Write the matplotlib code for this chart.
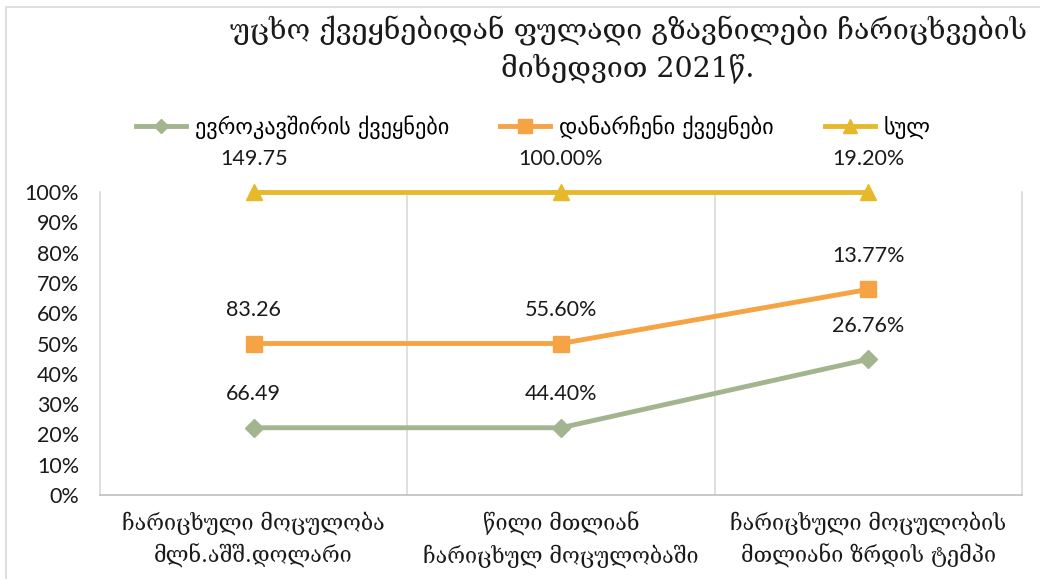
import matplotlib
matplotlib.use("Agg")
import matplotlib.pyplot as plt
import numpy as np
from matplotlib.lines import Line2D
from matplotlib.patches import Rectangle

categories = ["ჩარიცხული მოცულობა\nმლნ.აშშ.დოლარი",
              "წილი მთლიან\nჩარიცხულ მოცულობაში",
              "ჩარიცხული მოცულობის\nმთლიანი ზრდის ტემპი"]
series_names = ["ევროკავშირის ქვეყნები", "დანარჩენი ქვეყნები", "სულ"]
eu = [66.49, 44.40, 26.76]
other = [83.26, 55.60, 13.77]
total = [149.75, 100.00, 19.20]
eu_labels = ["66.49", "44.40%", "26.76%"]
other_labels = ["83.26", "55.60%", "13.77%"]
total_labels = ["149.75", "100.00%", "19.20%"]
yticks = [0, 10, 20, 30, 40, 50, 60, 70, 80, 90, 100]
title = "უცხო ქვეყნებიდან ფულადი გზავნილები ჩარიცხვების\nმიხედვით 2021წ."

colors = ["#A3B58F", "#F5A345", "#E6B92B"]
markers = ["D", "s", "^"]
msizes = [9, 12, 12]

data = np.array([eu, other, total], dtype=float)
stack = np.cumsum(data, axis=0) / data.sum(axis=0)
labels = [eu_labels, other_labels, total_labels]

fig = plt.figure(figsize=(10.4, 5.79), dpi=100)
fig.patches.append(Rectangle((6/1040, -0.1), 1.2, 1 - 7/579 + 0.1, transform=fig.transFigure,
                             fill=False, edgecolor="#D9D9D9", linewidth=1.2))
ax = fig.add_axes([100/1040, 1 - 495/579, 922/1040, 303/579])
x = np.arange(len(categories))
num_font = ["Lato", "DejaVu Sans"]
for i in range(3):
    ax.plot(x, stack[i], color=colors[i], linewidth=3.5, marker=markers[i],
            markersize=msizes[i], clip_on=False, zorder=3, label=series_names[i])
    for xi, yi, lab in zip(x, stack[i], labels[i]):
        ax.annotate(lab, (xi, yi), xytext=(0, 24), textcoords="offset points",
                    ha="center", va="center", fontsize=15.5, family=num_font, color="#1a1a1a")

ax.set_xlim(-0.5, len(categories) - 0.5)
ax.set_ylim(0, 1)
for b in np.arange(0.5, len(categories) - 0.5, 1):
    ax.axvline(b, color="#D9D9D9", linewidth=1.2, zorder=1)
ax.set_yticks(np.array(yticks) / 100)
ax.set_yticklabels([f"{t}%" for t in yticks], fontsize=15.5, family=num_font, color="#1a1a1a")
ax.set_xticks(x)
ax.set_xticklabels(categories, fontsize=15.5, family=["DejaVu Serif", "DejaVu Sans"],
                   color="#1a1a1a", linespacing=1.45)
ax.tick_params(axis="y", length=0, pad=15)
ax.tick_params(axis="x", length=0, pad=12)
ax.spines["top"].set_visible(False)
ax.spines["left"].set_color("#D9D9D9")
ax.spines["right"].set_color("#D9D9D9")
ax.spines["bottom"].set_color("#BFBFBF")
for s in ["left", "right", "bottom"]:
    ax.spines[s].set_linewidth(1.2)

fig.text(0.604, 0.915, title, ha="center", va="center", fontsize=20.5,
         family=["DejaVu Serif", "DejaVu Sans"], color="#1a1a1a", linespacing=1.3)

handles = [Line2D([0], [0], color=colors[i], linewidth=3.5, marker=markers[i],
                  markersize=msizes[i] - 2) for i in range(3)]
fig.legend(handles, series_names, loc="center", bbox_to_anchor=(0.513, 0.78), ncol=3,
           frameon=False, handlelength=2.25, handletextpad=0.4, columnspacing=2.3,
           prop={"family": ["DejaVu Sans"], "size": 16})

fig.savefig("out.png", dpi=100)
